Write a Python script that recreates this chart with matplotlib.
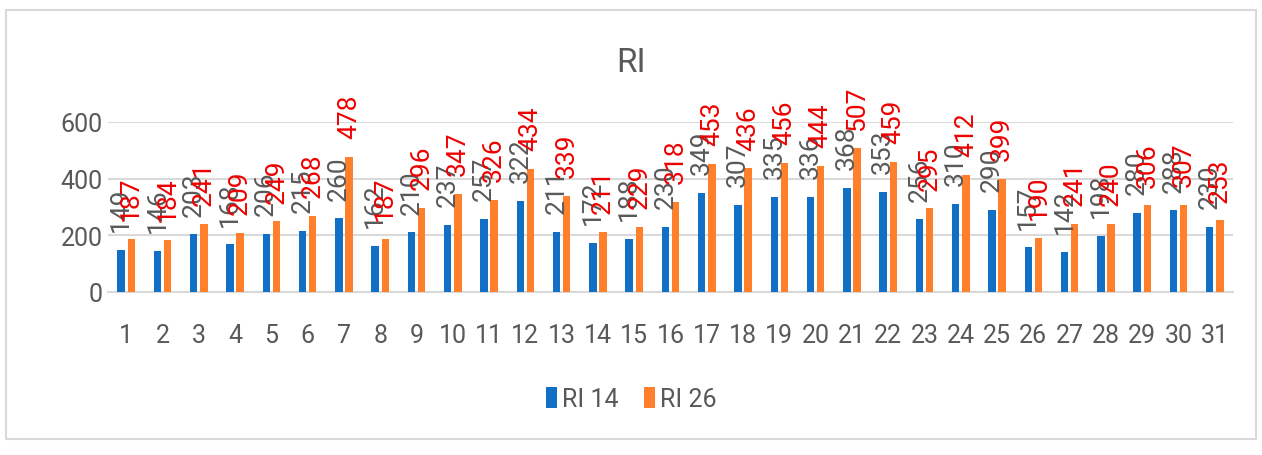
import numpy as np
import matplotlib.pyplot as plt
from matplotlib.patches import Rectangle

days = list(range(1, 32))
ri14 = [149, 146, 203, 168, 206, 215, 260, 162, 210, 237, 257, 322, 211, 172, 188, 230,
        349, 307, 335, 336, 368, 353, 256, 310, 290, 157, 142, 198, 280, 288, 230]
ri26 = [187, 184, 241, 209, 249, 268, 478, 187, 296, 347, 326, 434, 339, 211, 229, 318,
        453, 436, 456, 444, 507, 459, 295, 412, 399, 190, 241, 240, 306, 307, 253]
yticks = [0, 200, 400, 600]

plt.rcParams['font.family'] = ['Roboto', 'DejaVu Sans']
gray = '#595959'
blue = '#1170c5'
orange = '#ff7f2a'

fig = plt.figure(figsize=(12.62, 4.56), dpi=100)
ax = fig.add_axes([0.0856, 0.3575, 0.8914, 0.3728])

x = np.array(days)
w = 0.205
off = 0.14
b1 = ax.bar(x - off, ri14, width=w, color=blue, label='RI 14', zorder=3)
b2 = ax.bar(x + off, ri26, width=w, color=orange, label='RI 26', zorder=3)

for xi, v in zip(x - off, ri14):
    ax.annotate(str(v), (xi, v), xytext=(0, 13.5), textcoords='offset points',
                rotation=90, ha='center', va='bottom', color=gray, fontsize=19,
                annotation_clip=False, zorder=4)
for xi, v in zip(x + off, ri26):
    ax.annotate(str(v), (xi, v), xytext=(0, 13.5), textcoords='offset points',
                rotation=90, ha='center', va='bottom', color='#ee0000', fontsize=19,
                annotation_clip=False, zorder=5)

ax.set_xlim(0.5, 31.5)
ax.set_ylim(0, 600)
ax.set_yticks(yticks)
ax.set_xticks(days)
ax.set_xticklabels([str(d) for d in days])
ax.grid(axis='y', color='#d9d9d9', linewidth=1.5, zorder=0)
for s in ['top', 'right', 'left']:
    ax.spines[s].set_visible(False)
ax.spines['bottom'].set_color('#d9d9d9')
ax.spines['bottom'].set_linewidth(1.5)
ax.tick_params(axis='both', length=0, labelsize=18, labelcolor=gray)
ax.tick_params(axis='x', pad=22)
ax.tick_params(axis='y', pad=4)

fig.text(0.5, 0.862, 'RI', ha='center', va='center', fontsize=24, color=gray)

fig.legend(handles=[b1, b2], loc='center', bbox_to_anchor=(0.5, 0.122), ncol=2,
           frameon=False, fontsize=18, labelcolor=gray, handlelength=0.45,
           handleheight=0.9, handletextpad=0.2, columnspacing=1.0)

fig.patches.append(Rectangle((0.005, 1 - 440 / 456), 0.99, 429 / 456,
                             transform=fig.transFigure, fill=False,
                             edgecolor='#d9d9d9', linewidth=1.5))

fig.savefig('out.png', dpi=100)
